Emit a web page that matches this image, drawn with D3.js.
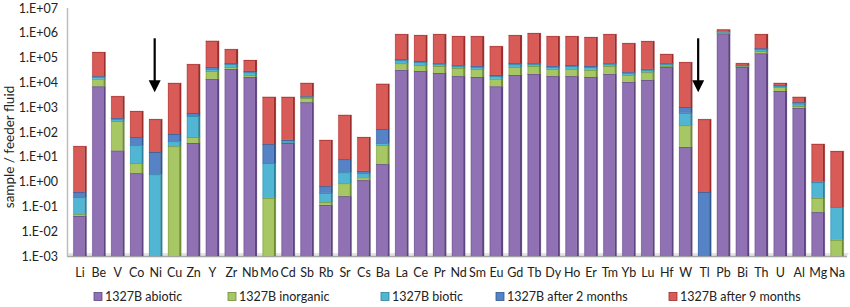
<!DOCTYPE html>
<html><head><meta charset="utf-8">
<script src="https://cdn.jsdelivr.net/npm/d3@7"></script>
<style>body{margin:0;background:#fff}svg{display:block}text{font-family:Lato,"Liberation Sans",sans-serif}</style>
</head><body><svg id="c" width="850" height="307"></svg>
<script>
const categories = ["Li","Be","V","Co","Ni","Cu","Zn","Y","Zr","Nb","Mo","Cd","Sb","Rb","Sr","Cs","Ba","La","Ce","Pr","Nd","Sm","Eu","Gd","Tb","Dy","Ho","Er","Tm","Yb","Lu","Hf","W","Tl","Pb","Bi","Th","U","Al","Mg","Na"];
const seriesNames = ["1327B abiotic","1327B inorganic","1327B biotic","1327B after 2 months","1327B after 9 months"];
const abiotic   = [0.041,7000,18,2.2,0,0,36,1.4e4,3.5e4,1.65e4,0,36,1600,0.115,0.26,1.15,5.1,3.2e4,2.9e4,2.4e4,1.8e4,1.65e4,7e3,2e4,2.2e4,1.8e4,1.8e4,1.65e4,2.2e4,1.04e4,1.25e4,4.2e4,25,0,9.5e5,4.2e4,1.5e5,4.5e3,930,0.059,0];
const inorganic = [0.008,7000,260,3.4,0,27,27,1.5e4,7e3,3.5e3,0.22,1,750,0.035,0.61,0.35,25,2.8e4,2.1e4,2.2e4,2e4,1.85e4,7e3,2.2e4,2.4e4,1.7e4,1.7e4,1.55e4,2.4e4,9.6e3,1.35e4,4e3,165,0,9e4,3e3,3.5e4,2e3,190,0.16,0.0045];
const biotic    = [0.19,2800,60,24,2.0,16,380,6e3,1.3e4,6e3,5.4,4,300,0.2,1.53,0.7,6,1.9e4,1.6e4,1e4,8.5e3,7.5e3,4.2e3,1.25e4,1e4,7.5e3,1.05e4,1e4,1e4,4.2e3,6.3e3,1e4,400,0,6e4,3e3,3.5e4,800,300,0.73,0.09];
const after2m   = [0.14,1200,27,33,13.6,40,140,7e3,5e3,3e3,27,7,150,0.31,5.7,0.5,96,8e3,7e3,4e3,3.5e3,3.5e3,1.8e3,5.5e3,4e3,3.5e3,4.5e3,4e3,4e3,1.8e3,2.7e3,4e3,430,0.38,3e4,2e3,2e4,600,180,0.05,0];
const after9m   = [26.6,1.5e5,2430,640,317,9400,5.4e4,4.3e5,1.6e5,5.1e4,2570,2550,6700,47,480,60,8600,8e5,7.4e5,8.3e5,6.9e5,6.9e5,2.7e5,7.5e5,9.2e5,6.9e5,6.9e5,6.3e5,8.3e5,3.6e5,4.3e5,8e4,6.5e4,330,2.4e5,1e4,6.5e5,1.6e3,1000,32,17];
const yTicks = [1e-3,1e-2,1e-1,1e0,1e1,1e2,1e3,1e4,1e5,1e6,1e7];
const colors = ["#9072b4","#a6c764","#50b6d4","#5683c6","#d95b58"];
const edge   = ["#5e4480","#6f8c34","#2a829c","#2e5690","#9c2d2b"];

const svg = d3.select("#c");
const keys = ["abiotic","inorganic","biotic","after2m","after9m"];
const rows = categories.map((c,i)=>({cat:c,abiotic:abiotic[i],inorganic:inorganic[i],biotic:biotic[i],after2m:after2m[i],after9m:after9m[i]}));
const stack = d3.stack().keys(keys)(rows);

const x = d3.scaleBand().domain(categories).range([70.5,846.6]).paddingInner(0.3).paddingOuter(0.15);
const y = d3.scaleLog().domain([1e-3,1e7]).range([256,8]);
const bw = x.bandwidth();
const side = 2;

// floor / axis
svg.append("polygon").attr("points","67,256 847,256 849,253 69,253").attr("fill","#e4e4e4");
svg.append("line").attr("x1",67).attr("x2",847).attr("y1",256.5).attr("y2",256.5).attr("stroke","#a8a8a8").attr("stroke-width",1.5);
svg.append("line").attr("x1",67.5).attr("x2",67.5).attr("y1",8).attr("y2",256.5).attr("stroke","#bdbdbd").attr("stroke-width",1.5);

const fmt = v => { const e = Math.round(Math.log10(v)); return "1.E" + (e<0?"-":"+") + String(Math.abs(e)).padStart(2,"0"); };
const yAxis = d3.axisLeft(y).tickValues(yTicks).tickFormat(fmt).tickSize(0).tickPadding(0);
const ga = svg.append("g").attr("transform","translate(58,0)").call(yAxis);
ga.select(".domain").remove();
ga.selectAll("text").attr("font-size",12.5).attr("fill","#222").style("font-family","Lato,'Liberation Sans',sans-serif");

const xAxis = d3.axisBottom(x).tickSize(0).tickPadding(0);
const gx = svg.append("g").attr("transform","translate(0,268.5)").call(xAxis);
gx.select(".domain").remove();
gx.selectAll("text").attr("font-size",12.5).attr("fill","#222").style("font-family","Lato,'Liberation Sans',sans-serif");

// bars
const g = svg.append("g");
stack.forEach((s,si)=>{
  s.forEach((d,i)=>{
    const v0 = Math.max(d[0],1e-3), v1 = d[1];
    if (v1 <= v0) return;
    const x0 = x(categories[i]);
    const yt = y(v1), yb = y(v0);
    g.append("rect").attr("x",x0-0.5).attr("y",yt-0.5).attr("width",bw+1).attr("height",yb-yt+1).attr("fill",edge[si]).attr("opacity",0.18);
    g.append("rect").attr("x",x0).attr("y",yt).attr("width",bw-side).attr("height",yb-yt).attr("fill",colors[si]);
    g.append("rect").attr("x",x0+bw-side).attr("y",yt).attr("width",side).attr("height",yb-yt).attr("fill",edge[si]);
    g.append("rect").attr("x",x0).attr("y",yt).attr("width",bw-side).attr("height",Math.min(1,yb-yt)).attr("fill",edge[si]).attr("opacity",0.6);
    g.append("rect").attr("x",x0).attr("y",yt).attr("width",0.8).attr("height",yb-yt).attr("fill",edge[si]).attr("opacity",0.4);
  });
});

// arrows
function arrow(cx, topVal, tipVal){
  const yt = y(topVal), yp = y(tipVal);
  svg.append("line").attr("x1",cx).attr("x2",cx).attr("y1",yt).attr("y2",yp-10).attr("stroke","#000").attr("stroke-width",2.2);
  svg.append("path").attr("d",`M${cx-6},${yp-12}L${cx+6},${yp-12}L${cx},${yp}Z`).attr("fill","#000");
}
arrow(x("Ni")+bw/2-1, 6e5, 4e3);
arrow((x("W")+x("Tl")+bw)/2+3, 6e5, 4e3);

// y label
svg.append("text").attr("transform","translate(14,147) rotate(-90)").attr("text-anchor","middle").attr("font-size",13.5).attr("fill","#222").text("sample / feeder fluid");

// legend
const legX = [94,228,381,496,669];
seriesNames.forEach((n,i)=>{
  svg.append("rect").attr("x",legX[i]).attr("y",292.5).attr("width",8).attr("height",8).attr("fill",colors[i]).attr("stroke",edge[i]).attr("stroke-width",0.8);
  svg.append("text").attr("x",legX[i]+11).attr("y",301).attr("font-size",12.5).attr("fill","#222").text(n);
});
</script></body></html>
